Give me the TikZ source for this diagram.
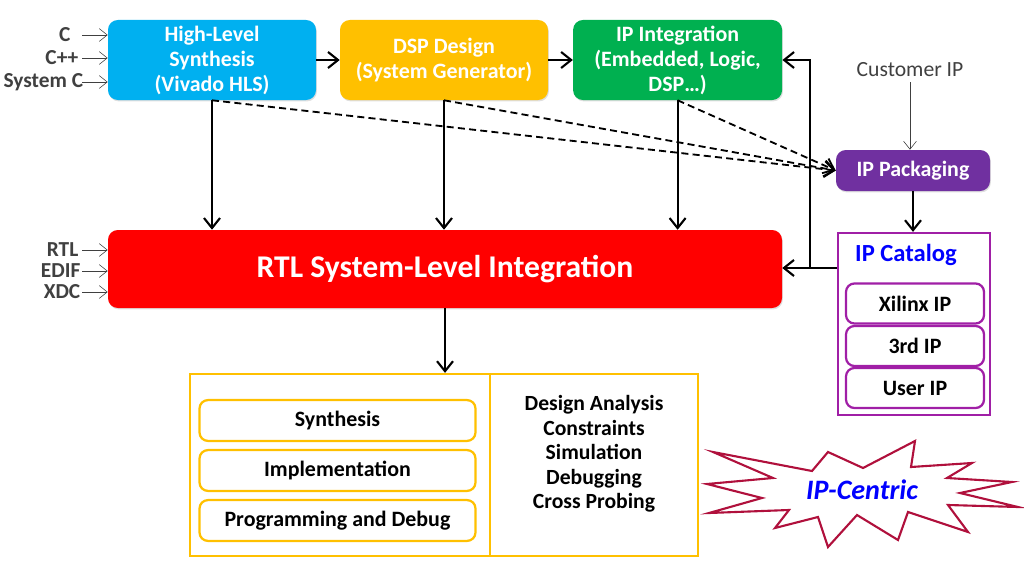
\documentclass[tikz,border=0pt]{standalone}
\usepackage{fontspec}
\setmainfont{Carlito}
\usepackage{tikz}
\usetikzlibrary{arrows.meta,positioning,shadows}
\definecolor{Cian}{HTML}{00B0F0}
\definecolor{Ambar}{HTML}{FFC000}
\definecolor{Verde}{HTML}{00B050}
\definecolor{Rojo}{HTML}{FF0000}
\definecolor{Morado}{HTML}{7030A0}
\definecolor{Magenta}{HTML}{A01FA6}
\definecolor{Carmin}{HTML}{B0103C}
\definecolor{Azul}{HTML}{0000FF}
\definecolor{GrisOscuro}{HTML}{404040}
\newcommand{\txtbox}{\fontsize{15.6pt}{17.8pt}\selectfont\bfseries}

\begin{document}
\begin{tikzpicture}[
  every node/.style={font=\txtbox},
  tool/.style={rounded corners=7pt,text=white,align=center,minimum height=2cm,
    drop shadow={opacity=0.25,shadow xshift=0.6pt,shadow yshift=-1pt}},
  flow/.style={-{Straight Barb[length=2.5mm,width=4mm]},line width=1.5pt,draw=black},
  dflow/.style={flow,dashed,dash pattern=on 5pt off 3pt,line width=1.3pt},
  feed/.style={-{Straight Barb[length=2mm,width=3.2mm]},draw=GrisOscuro,thin},
  inlab/.style={anchor=east,text=GrisOscuro,inner sep=1pt,font=\fontsize{15.2pt}{18pt}\selectfont\bfseries},
  item/.style={draw=Magenta,line width=1.6pt,rounded corners=6pt,minimum width=3.45cm,minimum height=1cm},
  step item/.style={draw=Ambar,line width=1.6pt,rounded corners=6pt,minimum width=6.9cm,minimum height=1.02cm}
]
  \useasboundingbox (0,0) rectangle (25.6,14.275);

  % Entradas de diseño en alto nivel.
  \node[tool,fill=Cian,minimum width=5.2cm] (hls) at (5.3,12.775)
    {High-Level\\Synthesis\\(Vivado HLS)};
  \node[tool,fill=Ambar,minimum width=5.2cm] (dsp) at (11.1,12.775)
    {DSP Design\\(System Generator)};
  \node[tool,fill=Verde,minimum width=5.225cm] (ipi) at (16.94,12.775)
    {IP Integration\\(Embedded, Logic,\\DSP\dots)};
  \draw[flow] (hls) -- (dsp);
  \draw[flow] (dsp) -- (ipi);

  \coordinate (feedx) at (2.05,0);
  \node[inlab] (inc) at (1.8,13.4) {C};
  \node[inlab] (incpp) at (2.0,12.825) {C++};
  \node[inlab] (insc) at (2.12,12.225) {System C};
  \foreach \n in {inc,incpp,insc}
    \draw[feed] (\n.east -| feedx) -- (\n.east -| hls.west);

  % Bloque central de integración.
  \node[tool,fill=Rojo,minimum width=16.85cm,minimum height=1.95cm,
    font=\fontsize{22.5pt}{26pt}\selectfont\bfseries] (rtl) at (11.125,7.55)
    {RTL System-Level Integration};
  \node[inlab] (inrtl) at (2.0,8.025) {RTL};
  \node[inlab] (inedif) at (2.05,7.5) {EDIF};
  \node[inlab] (inxdc) at (2.05,6.975) {XDC};
  \foreach \n in {inrtl,inedif,inxdc}
    \draw[feed] (\n.east -| feedx) -- (\n.east -| rtl.west);

  \foreach \n in {hls,dsp,ipi}
    \draw[flow] (\n.south) -- (\n.south |- rtl.north);

  % Empaquetado y catálogo de IP.
  \node[tool,fill=Morado,minimum width=3.85cm,minimum height=1.025cm] (pack)
    at (22.825,10.0125) {IP Packaging};
  \node[text=GrisOscuro,font=\fontsize{15.4pt}{17.8pt}\selectfont] (cust)
    at (22.75,12.525) {Customer IP};
  \draw[feed] (cust.south) -- (cust.south |- pack.north);
  \foreach \n in {hls,dsp,ipi}
    \draw[dflow] (\n.south) -- (pack.west);

  \node[draw=Magenta,line width=1.6pt,minimum width=3.8cm,minimum height=4.55cm]
    (cat) at (22.85,6.175) {};
  \node[text=Azul,font=\fontsize{17.5pt}{20pt}\selectfont\bfseries] (cattitle)
    at (22.65,7.9) {IP Catalog};
  \node[item] (xil) at (22.875,6.6875) {Xilinx IP};
  \node[item] (third) at (22.875,5.625) {3rd IP};
  \node[item] (user) at (22.875,4.575) {User IP};
  \draw[flow] (pack.south) -- (pack.south |- cat.north);

  % Retorno del catálogo hacia la integración.
  \coordinate (fb) at (20.25,7.575);
  \draw[flow] (fb -| cat.west) -- (fb -| rtl.east);
  \draw[flow] (fb) |- (ipi.east);

  % Flujo de implementación.
  \node[draw=Ambar,line width=1.6pt,minimum width=12.7cm,minimum height=4.55cm]
    (impl) at (11.1,2.65) {};
  \draw[Ambar,line width=1.6pt] (12.25,0 |- impl.north) -- (12.25,0 |- impl.south);
  \draw[flow] (rtl.south) -- (rtl.south |- impl.north);
  \node[step item] (synth) at (8.4375,3.7625) {Synthesis};
  \node[step item] (place) at (8.4375,2.5125) {Implementation};
  \node[step item] (prog) at (8.4375,1.2625) {Programming and Debug};
  \node[align=center,font=\fontsize{15.4pt}{17.4pt}\selectfont\bfseries] (tools)
    at (14.85,2.925)
    {Design Analysis\\Constraints\\Simulation\\Debugging\\Cross Probing};

  % Estrella IP-Centric.
  \draw[Carmin,line width=1.5pt,line join=miter,fill=white]
    (17.825,2.975) -- (20.3,2.5) -- (20.7,2.975) -- (21.575,2.575)
    -- (22.875,3.25) -- (22.775,2.6) -- (24.3,2.7) -- (23.675,2.325)
    -- (25.3,2.225) -- (24.0,1.95) -- (25.45,1.6) -- (23.7,1.65)
    -- (24.2,0.975) -- (22.7,1.475) -- (22.45,0.775) -- (21.425,1.4)
    -- (20.7,0.6) -- (20.45,1.35) -- (19.375,1.075) -- (19.725,1.525)
    -- (17.725,1.45) -- (19.05,1.825) -- (17.675,2.175) -- (19.325,2.325)
    -- cycle;
  \node[text=Azul,font=\fontsize{20pt}{24pt}\selectfont\bfseries\itshape] (ipc)
    at (21.55,2.025) {IP-Centric};
\end{tikzpicture}
\end{document}
